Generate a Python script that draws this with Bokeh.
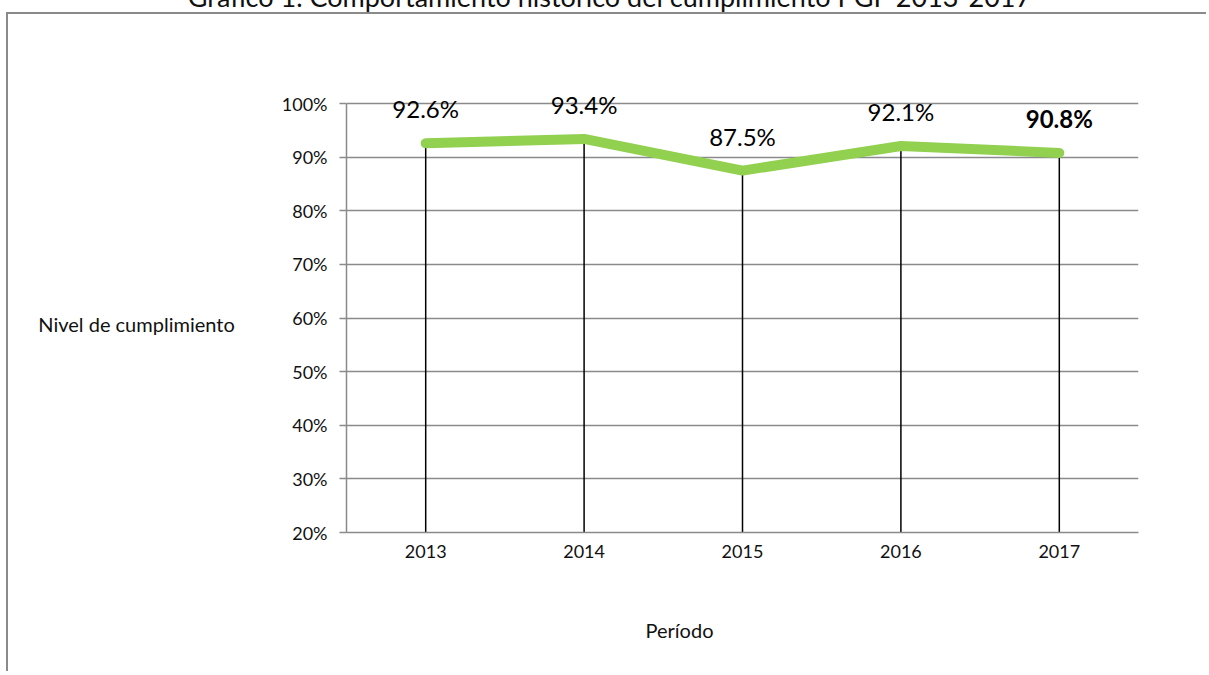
from bokeh.plotting import figure
from bokeh.models import (ColumnDataSource, FactorRange, Range1d, FixedTicker,
                          NumeralTickFormatter, Div, Title)
from bokeh.layouts import column
from bokeh.core.properties import value
from bokeh.embed import file_html
from bokeh.resources import INLINE

# ---- data ----
years = ["2013", "2014", "2015", "2016", "2017"]
cumplimiento = [0.926, 0.934, 0.875, 0.921, 0.908]
label_text = ["92.6%", "93.4%", "87.5%", "92.1%", "90.8%"]
highlight_year = "2017"
y_ticks = [0.2, 0.3, 0.4, 0.5, 0.6, 0.7, 0.8, 0.9, 1.0]
title_text = "Gráfico 1. Comportamiento histórico del cumplimiento PGP 2013-2017"
y_title = "Nivel de cumplimiento"
x_title = "Período"

FONT = "Lato"
GRAY = "#8a8a8a"
GREEN = "#92D050"
TXT = "#111111"

y_min, y_max = y_ticks[0], y_ticks[-1]
y_headroom = 0.03  # space above the 100% line so the labels are not clipped

src = ColumnDataSource(dict(
    x=years, y=cumplimiento, lab=label_text,
    base=[y_min] * len(years),
    style=["bold" if yr == highlight_year else "normal" for yr in years],
))

p = figure(width=1200, height=659, output_backend="svg", toolbar_location=None,
           x_range=FactorRange(*years, range_padding=0),
           y_range=Range1d(y_min, y_max + y_headroom),
           min_border_left=338, min_border_right=70,
           min_border_top=73, min_border_bottom=141,
           margin=(0, 0, 0, 6),
           styles={"border-top": f"2px solid {GRAY}",
                   "border-left": f"2px solid {GRAY}"})
p.outline_line_color = None
p.background_fill_color = "white"
p.border_fill_color = "white"

# grid
p.xgrid.grid_line_color = None
p.ygrid.grid_line_color = GRAY
p.ygrid.grid_line_width = 1.5
p.ygrid.ticker = FixedTicker(ticks=y_ticks)

# y axis
p.yaxis.ticker = FixedTicker(ticks=y_ticks)
p.yaxis.bounds = (y_min, y_max)
p.yaxis.formatter = NumeralTickFormatter(format="0%")
p.yaxis.axis_line_color = GRAY
p.yaxis.axis_line_width = 1.5
p.yaxis.major_tick_line_color = GRAY
p.yaxis.major_tick_line_width = 1.5
p.yaxis.major_tick_out = 7
p.yaxis.major_tick_in = 0
p.yaxis.minor_tick_line_color = None
p.yaxis.major_label_standoff = 12
p.yaxis.major_label_text_font = FONT
p.yaxis.major_label_text_font_size = "18px"
p.yaxis.major_label_text_color = TXT
# leading empty line moves the single visible line slightly below the centre
p.yaxis.axis_label = "\n" + y_title
p.yaxis.axis_label_orientation = "horizontal"
p.yaxis.axis_label_standoff = 44
p.yaxis.axis_label_text_font = FONT
p.yaxis.axis_label_text_font_size = "20px"
p.yaxis.axis_label_text_font_style = "normal"
p.yaxis.axis_label_text_color = TXT

# x axis
p.xaxis.axis_line_color = GRAY
p.xaxis.axis_line_width = 1.5
p.xaxis.major_tick_line_color = None
p.xaxis.minor_tick_line_color = None
p.xaxis.major_label_standoff = 6
p.xaxis.major_label_text_font = FONT
p.xaxis.major_label_text_font_size = "18px"
p.xaxis.major_label_text_color = TXT

# x axis title, placed left of centre as in the source
# (leading empty line pushes the visible line lower)
p.add_layout(Title(text="\n" + x_title, align="left", offset=299, standoff=62,
                   text_font=FONT, text_font_size="20px",
                   text_font_style="normal", text_color=TXT), "below")

# drop lines
p.segment(x0="x", y0="y", x1="x", y1="base", source=src,
          line_color="black", line_width=1.5)
# main line
p.line(x="x", y="y", source=src, line_color=GREEN, line_width=10,
       line_cap="round", line_join="round")
# data labels
p.text(x="x", y="y", text="lab", source=src, text_align="center",
       text_baseline="bottom", y_offset=-20, text_font=value(FONT),
       text_font_size="24px", text_font_style="style", text_color="black")

title_div = Div(
    text=(f'<div style="position:relative;top:-17px;left:5px;width:1209px;'
          f'text-align:center;font-family:{FONT};font-size:27px;line-height:27px;'
          f'color:{TXT};white-space:nowrap;">{title_text}</div>'),
    width=1209, height=12, margin=0)

layout = column(title_div, p, spacing=0)

open("out.html", "w").write(file_html(layout, INLINE))
